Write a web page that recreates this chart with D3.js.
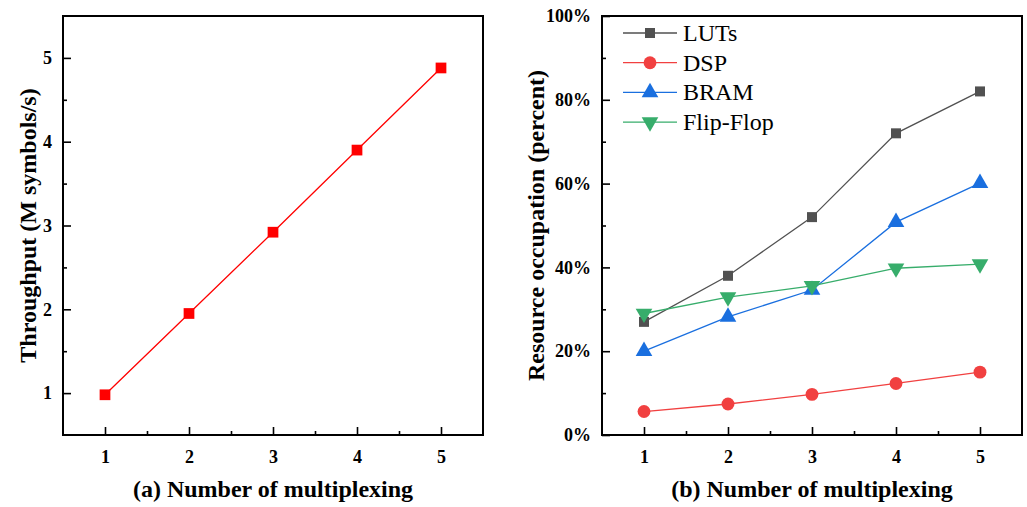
<!DOCTYPE html>
<html>
<head>
<meta charset="utf-8">
<script src="https://cdn.jsdelivr.net/npm/d3@7"></script>
<style>
  body { margin: 0; background: #fff; }
  svg { display: block; }
  text { font-family: "Liberation Serif", "Times New Roman", serif; }
</style>
</head>
<body>
<svg width="1027" height="507"></svg>
<script>
// data
const multiplexing = [1, 2, 3, 4, 5];
const throughput = [0.98, 1.95, 2.92, 3.90, 4.88];
const lutsPct = [27, 38, 52, 72, 82];
const dspPct = [5.6, 7.4, 9.7, 12.3, 15.0];
const bramPct = [20, 28.2, 34.6, 50.8, 60.1];
const flipFlopPct = [29, 32.9, 35.6, 39.8, 40.8];
const seriesNames = ["LUTs", "DSP", "BRAM", "Flip-Flop"];
const throughputTicks = [1, 2, 3, 4, 5];
const percentTicks = [0, 20, 40, 60, 80, 100];

const svg = d3.select("svg");

function drawPanel(opts) {
    const g = svg.append("g");
    const x = d3.scaleLinear().domain([0.5, 5.5]).range([opts.left, opts.right]);
    const y = d3.scaleLinear().domain(opts.yDomain).range([opts.bottom, opts.top]);

    // minor ticks
    g.append("g")
        .attr("transform", "translate(0," + opts.bottom + ")")
        .call(d3.axisBottom(x).tickValues([1.5, 2.5, 3.5, 4.5]).tickSizeInner(-4).tickSizeOuter(0).tickFormat(""))
        .call(s => s.select(".domain").remove());
    g.append("g")
        .attr("transform", "translate(" + opts.left + ",0)")
        .call(d3.axisLeft(y).tickValues(opts.yMinor).tickSizeInner(-4).tickSizeOuter(0).tickFormat(""))
        .call(s => s.select(".domain").remove());

    // major ticks
    const xa = g.append("g")
        .attr("transform", "translate(0," + opts.bottom + ")")
        .call(d3.axisBottom(x).tickValues(multiplexing).tickSizeInner(-8).tickSizeOuter(0).tickPadding(15).tickFormat(d3.format("d")));
    const ya = g.append("g")
        .attr("transform", "translate(" + opts.left + ",0)")
        .call(d3.axisLeft(y).tickValues(opts.yTicks).tickSizeInner(-8).tickSizeOuter(0).tickPadding(11).tickFormat(opts.yFormat));
    [xa, ya].forEach(a => {
        a.select(".domain").remove();
        a.selectAll("text").style("font-size", "18px").style("font-weight", "bold").attr("fill", "#000")
            .style("font-family", '"Liberation Serif", serif');
    });
    g.selectAll(".tick line").attr("stroke", "#000").attr("stroke-width", 1.6);

    // frame
    g.append("rect")
        .attr("x", opts.left).attr("y", opts.top)
        .attr("width", opts.right - opts.left).attr("height", opts.bottom - opts.top)
        .attr("fill", "none").attr("stroke", "#000").attr("stroke-width", 2);

    // titles
    g.append("text")
        .attr("x", (opts.left + opts.right) / 2).attr("y", 497)
        .attr("text-anchor", "middle")
        .style("font-size", "24px").style("font-weight", "bold")
        .text(opts.xTitle);
    g.append("text")
        .attr("transform", "translate(" + opts.yTitleX + "," + (opts.top + opts.bottom) / 2 + ") rotate(-90)")
        .attr("text-anchor", "middle")
        .style("font-size", "24px").style("font-weight", "bold")
        .text(opts.yTitle);

    return {g, x, y};
}

function drawMarker(sel, shape, color, size) {
    const sym = {square: d3.symbolSquare, circle: d3.symbolCircle, up: d3.symbolTriangle, down: d3.symbolTriangle}[shape];
    sel.append("path")
        .attr("d", d3.symbol().type(sym).size(size))
        .attr("transform", d => "translate(" + d[0] + "," + d[1] + ")" + (shape === "down" ? " rotate(180)" : ""))
        .attr("fill", color);
}

// panel (a)
const pa = drawPanel({
    left: 63, right: 483, top: 16, bottom: 435,
    yDomain: [0.5, 5.5], yTicks: throughputTicks, yMinor: [1.5, 2.5, 3.5, 4.5],
    yFormat: d3.format("d"),
    xTitle: "(a) Number of multiplexing", yTitle: "Throughput (M symbols/s)", yTitleX: 36
});
const ptsA = multiplexing.map((m, i) => [pa.x(m), pa.y(throughput[i])]);
pa.g.append("path")
    .attr("d", d3.line()(ptsA))
    .attr("fill", "none").attr("stroke", "#ff0000").attr("stroke-width", 1.3);
drawMarker(pa.g.selectAll(null).data(ptsA).enter(), "square", "#ff0000", 115);

// panel (b)
const pb = drawPanel({
    left: 602, right: 1022, top: 16, bottom: 435,
    yDomain: [0, 100], yTicks: percentTicks, yMinor: [10, 30, 50, 70, 90],
    yFormat: d => d + "%",
    xTitle: "(b) Number of multiplexing", yTitle: "Resource occupation (percent)", yTitleX: 544
});
const colors = ["#515151", "#f14040", "#1a6fdf", "#37ad6b"];
const shapes = ["square", "circle", "up", "down"];
const sizes = [100, 130, 120, 120];
const allSeries = [lutsPct, dspPct, bramPct, flipFlopPct];
allSeries.forEach((vals, k) => {
    const pts = multiplexing.map((m, i) => [pb.x(m), pb.y(vals[i])]);
    pb.g.append("path")
        .attr("d", d3.line()(pts))
        .attr("fill", "none").attr("stroke", colors[k]).attr("stroke-width", 1.3);
    drawMarker(pb.g.selectAll(null).data(pts).enter(), shapes[k], colors[k], sizes[k]);
});

// legend
const legend = pb.g.append("g");
seriesNames.forEach((name, k) => {
    const ly = 33 + k * 29.7;
    legend.append("line")
        .attr("x1", 623).attr("x2", 677).attr("y1", ly).attr("y2", ly)
        .attr("stroke", colors[k]).attr("stroke-width", 1.3);
    drawMarker(legend.selectAll(null).data([[650, ly]]).enter(), shapes[k], colors[k], sizes[k]);
    legend.append("text")
        .attr("x", 683).attr("y", ly + 8)
        .style("font-size", "24px")
        .text(name);
});
</script>
</body>
</html>
